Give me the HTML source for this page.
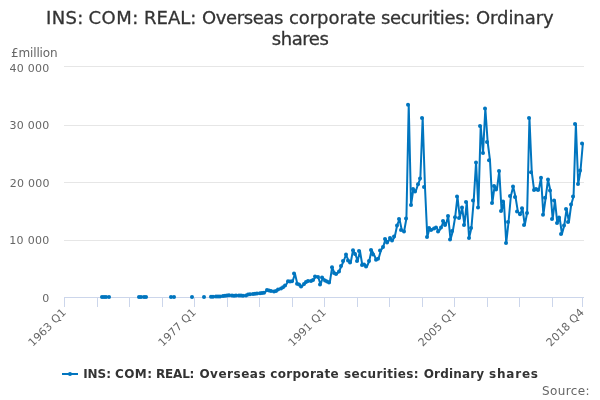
<!DOCTYPE html>
<html><head><meta charset="utf-8"><title>INS: COM: REAL: Overseas corporate securities: Ordinary shares</title>
<style>html,body{margin:0;padding:0;background:#fff;overflow:hidden}svg{display:block;font-family:"DejaVu Sans","Liberation Sans",sans-serif}</style></head><body>
<svg width="600" height="400" viewBox="0 0 600 400">
<rect width="600" height="400" fill="#ffffff"/>
<path d="M 64 240.5 L 584 240.5" stroke="#e6e6e6" stroke-width="1" fill="none"/>
<path d="M 64 182.5 L 584 182.5" stroke="#e6e6e6" stroke-width="1" fill="none"/>
<path d="M 64 125.5 L 584 125.5" stroke="#e6e6e6" stroke-width="1" fill="none"/>
<path d="M 64 66.5 L 584 66.5" stroke="#e6e6e6" stroke-width="1" fill="none"/>
<path d="M 64 297.5 L 584 297.5" stroke="#ccd6eb" stroke-width="1" fill="none"/>
<path d="M 64.5 297 L 64.5 307" stroke="#ccd6eb" stroke-width="1" fill="none"/>
<path d="M 97.5 297 L 97.5 307" stroke="#ccd6eb" stroke-width="1" fill="none"/>
<path d="M 129.5 297 L 129.5 307" stroke="#ccd6eb" stroke-width="1" fill="none"/>
<path d="M 162.5 297 L 162.5 307" stroke="#ccd6eb" stroke-width="1" fill="none"/>
<path d="M 194.5 297 L 194.5 307" stroke="#ccd6eb" stroke-width="1" fill="none"/>
<path d="M 227.5 297 L 227.5 307" stroke="#ccd6eb" stroke-width="1" fill="none"/>
<path d="M 259.5 297 L 259.5 307" stroke="#ccd6eb" stroke-width="1" fill="none"/>
<path d="M 292.5 297 L 292.5 307" stroke="#ccd6eb" stroke-width="1" fill="none"/>
<path d="M 324.5 297 L 324.5 307" stroke="#ccd6eb" stroke-width="1" fill="none"/>
<path d="M 357.5 297 L 357.5 307" stroke="#ccd6eb" stroke-width="1" fill="none"/>
<path d="M 389.5 297 L 389.5 307" stroke="#ccd6eb" stroke-width="1" fill="none"/>
<path d="M 422.5 297 L 422.5 307" stroke="#ccd6eb" stroke-width="1" fill="none"/>
<path d="M 454.5 297 L 454.5 307" stroke="#ccd6eb" stroke-width="1" fill="none"/>
<path d="M 487.5 297 L 487.5 307" stroke="#ccd6eb" stroke-width="1" fill="none"/>
<path d="M 519.5 297 L 519.5 307" stroke="#ccd6eb" stroke-width="1" fill="none"/>
<path d="M 552.5 297 L 552.5 307" stroke="#ccd6eb" stroke-width="1" fill="none"/>
<path d="M 582.5 297 L 582.5 307" stroke="#ccd6eb" stroke-width="1" fill="none"/>
<g>
<path d="M 102.30 297.00 L 104.62 297.00 L 106.95 297.00 L 109.27 297.00" stroke="#0075bf" stroke-width="2" stroke-linejoin="round" stroke-linecap="round" fill="none"/>
<path d="M 139.45 297.00 L 141.77 297.00 L 144.09 297.00 L 146.41 297.00" stroke="#0075bf" stroke-width="2" stroke-linejoin="round" stroke-linecap="round" fill="none"/>
<path d="M 171.95 297.00 L 174.27 297.00" stroke="#0075bf" stroke-width="2" stroke-linejoin="round" stroke-linecap="round" fill="none"/>
<path d="M 211.41 296.80 L 213.73 296.70 L 216.05 296.60 L 218.37 296.50 L 220.70 296.40 L 223.02 295.90 L 225.34 295.80 L 227.66 295.60 L 229.98 295.20 L 232.30 295.60 L 234.62 295.80 L 236.95 295.60 L 239.27 295.60 L 241.59 295.60 L 243.91 295.80 L 246.23 295.50 L 248.55 294.50 L 250.87 294.30 L 253.20 294.00 L 255.52 293.80 L 257.84 293.50 L 260.16 293.20 L 262.48 293.00 L 264.80 292.70 L 267.12 290.00 L 269.45 290.60 L 271.77 291.00 L 274.09 291.50 L 276.41 291.00 L 278.73 289.50 L 281.05 288.50 L 283.37 287.30 L 285.70 285.60 L 288.02 281.25 L 290.34 281.50 L 292.66 281.25 L 294.98 273.60 L 297.30 283.75 L 299.62 284.40 L 301.95 286.60 L 304.27 284.00 L 306.59 281.90 L 308.91 281.00 L 311.23 281.00 L 313.55 280.00 L 315.87 276.50 L 318.20 277.00 L 320.52 284.50 L 322.84 277.50 L 325.16 280.50 L 327.48 281.50 L 329.80 282.50 L 332.12 267.30 L 334.45 273.00 L 336.77 274.00 L 339.09 271.50 L 341.41 266.00 L 343.73 261.00 L 346.05 254.50 L 348.37 260.50 L 350.70 262.50 L 353.02 250.20 L 355.34 254.00 L 357.66 261.00 L 359.98 251.00 L 362.30 265.00 L 364.62 264.50 L 366.95 266.50 L 369.27 261.00 L 371.59 250.00 L 373.91 254.40 L 376.23 259.75 L 378.55 258.75 L 380.87 250.40 L 383.20 246.90 L 385.52 239.00 L 387.84 242.50 L 390.16 238.00 L 392.48 240.50 L 394.80 236.50 L 397.12 225.50 L 399.45 219.00 L 401.77 230.00 L 404.09 231.50 L 406.41 218.50 L 408.73 104.70 L 411.05 205.00 L 413.37 189.00 L 415.70 191.50 L 418.02 184.30 L 420.34 178.50 L 422.66 118.00 L 424.98 187.00 L 427.30 237.00 L 429.62 228.00 L 431.95 230.00 L 434.27 228.50 L 436.59 227.50 L 438.91 231.50 L 441.23 227.50 L 443.55 221.00 L 445.87 225.00 L 448.20 216.00 L 450.52 239.60 L 452.84 231.00 L 455.16 217.20 L 457.48 196.60 L 459.80 218.00 L 462.12 207.40 L 464.45 225.00 L 466.77 202.00 L 469.09 238.00 L 471.41 228.00 L 473.73 200.40 L 476.05 162.40 L 478.37 207.40 L 480.70 126.00 L 483.02 153.00 L 485.34 108.60 L 487.66 142.00 L 489.98 160.20 L 492.30 203.00 L 494.62 186.00 L 496.95 189.40 L 499.27 171.00 L 501.59 211.00 L 503.91 201.60 L 506.23 243.00 L 508.55 222.00 L 510.87 196.00 L 513.20 186.60 L 515.52 197.00 L 517.84 211.40 L 520.16 214.30 L 522.48 208.30 L 524.80 225.00 L 527.12 213.00 L 529.45 118.00 L 531.77 172.20 L 534.09 190.00 L 536.41 189.00 L 538.73 190.00 L 541.05 177.80 L 543.37 214.70 L 545.70 197.70 L 548.02 179.50 L 550.34 190.50 L 552.66 219.00 L 554.98 200.50 L 557.30 223.00 L 559.62 217.50 L 561.95 234.00 L 564.27 225.50 L 566.59 209.00 L 568.91 222.00 L 571.23 204.50 L 573.55 196.50 L 575.87 124.00 L 578.20 184.00 L 580.52 170.50 L 582.84 143.50" stroke="#0075bf" stroke-width="2" stroke-linejoin="round" stroke-linecap="round" fill="none"/>
</g><g>
<circle cx="102" cy="297.00" r="2" fill="#0075bf"/>
<circle cx="104" cy="297.00" r="2" fill="#0075bf"/>
<circle cx="106" cy="297.00" r="2" fill="#0075bf"/>
<circle cx="109" cy="297.00" r="2" fill="#0075bf"/>
<circle cx="139" cy="297.00" r="2" fill="#0075bf"/>
<circle cx="141" cy="297.00" r="2" fill="#0075bf"/>
<circle cx="144" cy="297.00" r="2" fill="#0075bf"/>
<circle cx="146" cy="297.00" r="2" fill="#0075bf"/>
<circle cx="171" cy="297.00" r="2" fill="#0075bf"/>
<circle cx="174" cy="297.00" r="2" fill="#0075bf"/>
<circle cx="192" cy="297.00" r="2" fill="#0075bf"/>
<circle cx="204" cy="297.00" r="2" fill="#0075bf"/>
<circle cx="211" cy="296.80" r="2" fill="#0075bf"/>
<circle cx="213" cy="296.70" r="2" fill="#0075bf"/>
<circle cx="216" cy="296.60" r="2" fill="#0075bf"/>
<circle cx="218" cy="296.50" r="2" fill="#0075bf"/>
<circle cx="220" cy="296.40" r="2" fill="#0075bf"/>
<circle cx="223" cy="295.90" r="2" fill="#0075bf"/>
<circle cx="225" cy="295.80" r="2" fill="#0075bf"/>
<circle cx="227" cy="295.60" r="2" fill="#0075bf"/>
<circle cx="229" cy="295.20" r="2" fill="#0075bf"/>
<circle cx="232" cy="295.60" r="2" fill="#0075bf"/>
<circle cx="234" cy="295.80" r="2" fill="#0075bf"/>
<circle cx="236" cy="295.60" r="2" fill="#0075bf"/>
<circle cx="239" cy="295.60" r="2" fill="#0075bf"/>
<circle cx="241" cy="295.60" r="2" fill="#0075bf"/>
<circle cx="243" cy="295.80" r="2" fill="#0075bf"/>
<circle cx="246" cy="295.50" r="2" fill="#0075bf"/>
<circle cx="248" cy="294.50" r="2" fill="#0075bf"/>
<circle cx="250" cy="294.30" r="2" fill="#0075bf"/>
<circle cx="253" cy="294.00" r="2" fill="#0075bf"/>
<circle cx="255" cy="293.80" r="2" fill="#0075bf"/>
<circle cx="257" cy="293.50" r="2" fill="#0075bf"/>
<circle cx="260" cy="293.20" r="2" fill="#0075bf"/>
<circle cx="262" cy="293.00" r="2" fill="#0075bf"/>
<circle cx="264" cy="292.70" r="2" fill="#0075bf"/>
<circle cx="267" cy="290.00" r="2" fill="#0075bf"/>
<circle cx="269" cy="290.60" r="2" fill="#0075bf"/>
<circle cx="271" cy="291.00" r="2" fill="#0075bf"/>
<circle cx="274" cy="291.50" r="2" fill="#0075bf"/>
<circle cx="276" cy="291.00" r="2" fill="#0075bf"/>
<circle cx="278" cy="289.50" r="2" fill="#0075bf"/>
<circle cx="281" cy="288.50" r="2" fill="#0075bf"/>
<circle cx="283" cy="287.30" r="2" fill="#0075bf"/>
<circle cx="285" cy="285.60" r="2" fill="#0075bf"/>
<circle cx="288" cy="281.25" r="2" fill="#0075bf"/>
<circle cx="290" cy="281.50" r="2" fill="#0075bf"/>
<circle cx="292" cy="281.25" r="2" fill="#0075bf"/>
<circle cx="294" cy="273.60" r="2" fill="#0075bf"/>
<circle cx="297" cy="283.75" r="2" fill="#0075bf"/>
<circle cx="299" cy="284.40" r="2" fill="#0075bf"/>
<circle cx="301" cy="286.60" r="2" fill="#0075bf"/>
<circle cx="304" cy="284.00" r="2" fill="#0075bf"/>
<circle cx="306" cy="281.90" r="2" fill="#0075bf"/>
<circle cx="308" cy="281.00" r="2" fill="#0075bf"/>
<circle cx="311" cy="281.00" r="2" fill="#0075bf"/>
<circle cx="313" cy="280.00" r="2" fill="#0075bf"/>
<circle cx="315" cy="276.50" r="2" fill="#0075bf"/>
<circle cx="318" cy="277.00" r="2" fill="#0075bf"/>
<circle cx="320" cy="284.50" r="2" fill="#0075bf"/>
<circle cx="322" cy="277.50" r="2" fill="#0075bf"/>
<circle cx="325" cy="280.50" r="2" fill="#0075bf"/>
<circle cx="327" cy="281.50" r="2" fill="#0075bf"/>
<circle cx="329" cy="282.50" r="2" fill="#0075bf"/>
<circle cx="332" cy="267.30" r="2" fill="#0075bf"/>
<circle cx="334" cy="273.00" r="2" fill="#0075bf"/>
<circle cx="336" cy="274.00" r="2" fill="#0075bf"/>
<circle cx="339" cy="271.50" r="2" fill="#0075bf"/>
<circle cx="341" cy="266.00" r="2" fill="#0075bf"/>
<circle cx="343" cy="261.00" r="2" fill="#0075bf"/>
<circle cx="346" cy="254.50" r="2" fill="#0075bf"/>
<circle cx="348" cy="260.50" r="2" fill="#0075bf"/>
<circle cx="350" cy="262.50" r="2" fill="#0075bf"/>
<circle cx="353" cy="250.20" r="2" fill="#0075bf"/>
<circle cx="355" cy="254.00" r="2" fill="#0075bf"/>
<circle cx="357" cy="261.00" r="2" fill="#0075bf"/>
<circle cx="359" cy="251.00" r="2" fill="#0075bf"/>
<circle cx="362" cy="265.00" r="2" fill="#0075bf"/>
<circle cx="364" cy="264.50" r="2" fill="#0075bf"/>
<circle cx="366" cy="266.50" r="2" fill="#0075bf"/>
<circle cx="369" cy="261.00" r="2" fill="#0075bf"/>
<circle cx="371" cy="250.00" r="2" fill="#0075bf"/>
<circle cx="373" cy="254.40" r="2" fill="#0075bf"/>
<circle cx="376" cy="259.75" r="2" fill="#0075bf"/>
<circle cx="378" cy="258.75" r="2" fill="#0075bf"/>
<circle cx="380" cy="250.40" r="2" fill="#0075bf"/>
<circle cx="383" cy="246.90" r="2" fill="#0075bf"/>
<circle cx="385" cy="239.00" r="2" fill="#0075bf"/>
<circle cx="387" cy="242.50" r="2" fill="#0075bf"/>
<circle cx="390" cy="238.00" r="2" fill="#0075bf"/>
<circle cx="392" cy="240.50" r="2" fill="#0075bf"/>
<circle cx="394" cy="236.50" r="2" fill="#0075bf"/>
<circle cx="397" cy="225.50" r="2" fill="#0075bf"/>
<circle cx="399" cy="219.00" r="2" fill="#0075bf"/>
<circle cx="401" cy="230.00" r="2" fill="#0075bf"/>
<circle cx="404" cy="231.50" r="2" fill="#0075bf"/>
<circle cx="406" cy="218.50" r="2" fill="#0075bf"/>
<circle cx="408" cy="104.70" r="2" fill="#0075bf"/>
<circle cx="411" cy="205.00" r="2" fill="#0075bf"/>
<circle cx="413" cy="189.00" r="2" fill="#0075bf"/>
<circle cx="415" cy="191.50" r="2" fill="#0075bf"/>
<circle cx="418" cy="184.30" r="2" fill="#0075bf"/>
<circle cx="420" cy="178.50" r="2" fill="#0075bf"/>
<circle cx="422" cy="118.00" r="2" fill="#0075bf"/>
<circle cx="424" cy="187.00" r="2" fill="#0075bf"/>
<circle cx="427" cy="237.00" r="2" fill="#0075bf"/>
<circle cx="429" cy="228.00" r="2" fill="#0075bf"/>
<circle cx="431" cy="230.00" r="2" fill="#0075bf"/>
<circle cx="434" cy="228.50" r="2" fill="#0075bf"/>
<circle cx="436" cy="227.50" r="2" fill="#0075bf"/>
<circle cx="438" cy="231.50" r="2" fill="#0075bf"/>
<circle cx="441" cy="227.50" r="2" fill="#0075bf"/>
<circle cx="443" cy="221.00" r="2" fill="#0075bf"/>
<circle cx="445" cy="225.00" r="2" fill="#0075bf"/>
<circle cx="448" cy="216.00" r="2" fill="#0075bf"/>
<circle cx="450" cy="239.60" r="2" fill="#0075bf"/>
<circle cx="452" cy="231.00" r="2" fill="#0075bf"/>
<circle cx="455" cy="217.20" r="2" fill="#0075bf"/>
<circle cx="457" cy="196.60" r="2" fill="#0075bf"/>
<circle cx="459" cy="218.00" r="2" fill="#0075bf"/>
<circle cx="462" cy="207.40" r="2" fill="#0075bf"/>
<circle cx="464" cy="225.00" r="2" fill="#0075bf"/>
<circle cx="466" cy="202.00" r="2" fill="#0075bf"/>
<circle cx="469" cy="238.00" r="2" fill="#0075bf"/>
<circle cx="471" cy="228.00" r="2" fill="#0075bf"/>
<circle cx="473" cy="200.40" r="2" fill="#0075bf"/>
<circle cx="476" cy="162.40" r="2" fill="#0075bf"/>
<circle cx="478" cy="207.40" r="2" fill="#0075bf"/>
<circle cx="480" cy="126.00" r="2" fill="#0075bf"/>
<circle cx="483" cy="153.00" r="2" fill="#0075bf"/>
<circle cx="485" cy="108.60" r="2" fill="#0075bf"/>
<circle cx="487" cy="142.00" r="2" fill="#0075bf"/>
<circle cx="489" cy="160.20" r="2" fill="#0075bf"/>
<circle cx="492" cy="203.00" r="2" fill="#0075bf"/>
<circle cx="494" cy="186.00" r="2" fill="#0075bf"/>
<circle cx="496" cy="189.40" r="2" fill="#0075bf"/>
<circle cx="499" cy="171.00" r="2" fill="#0075bf"/>
<circle cx="501" cy="211.00" r="2" fill="#0075bf"/>
<circle cx="503" cy="201.60" r="2" fill="#0075bf"/>
<circle cx="506" cy="243.00" r="2" fill="#0075bf"/>
<circle cx="508" cy="222.00" r="2" fill="#0075bf"/>
<circle cx="510" cy="196.00" r="2" fill="#0075bf"/>
<circle cx="513" cy="186.60" r="2" fill="#0075bf"/>
<circle cx="515" cy="197.00" r="2" fill="#0075bf"/>
<circle cx="517" cy="211.40" r="2" fill="#0075bf"/>
<circle cx="520" cy="214.30" r="2" fill="#0075bf"/>
<circle cx="522" cy="208.30" r="2" fill="#0075bf"/>
<circle cx="524" cy="225.00" r="2" fill="#0075bf"/>
<circle cx="527" cy="213.00" r="2" fill="#0075bf"/>
<circle cx="529" cy="118.00" r="2" fill="#0075bf"/>
<circle cx="531" cy="172.20" r="2" fill="#0075bf"/>
<circle cx="534" cy="190.00" r="2" fill="#0075bf"/>
<circle cx="536" cy="189.00" r="2" fill="#0075bf"/>
<circle cx="538" cy="190.00" r="2" fill="#0075bf"/>
<circle cx="541" cy="177.80" r="2" fill="#0075bf"/>
<circle cx="543" cy="214.70" r="2" fill="#0075bf"/>
<circle cx="545" cy="197.70" r="2" fill="#0075bf"/>
<circle cx="548" cy="179.50" r="2" fill="#0075bf"/>
<circle cx="550" cy="190.50" r="2" fill="#0075bf"/>
<circle cx="552" cy="219.00" r="2" fill="#0075bf"/>
<circle cx="554" cy="200.50" r="2" fill="#0075bf"/>
<circle cx="557" cy="223.00" r="2" fill="#0075bf"/>
<circle cx="559" cy="217.50" r="2" fill="#0075bf"/>
<circle cx="561" cy="234.00" r="2" fill="#0075bf"/>
<circle cx="564" cy="225.50" r="2" fill="#0075bf"/>
<circle cx="566" cy="209.00" r="2" fill="#0075bf"/>
<circle cx="568" cy="222.00" r="2" fill="#0075bf"/>
<circle cx="571" cy="204.50" r="2" fill="#0075bf"/>
<circle cx="573" cy="196.50" r="2" fill="#0075bf"/>
<circle cx="575" cy="124.00" r="2" fill="#0075bf"/>
<circle cx="578" cy="184.00" r="2" fill="#0075bf"/>
<circle cx="580" cy="170.50" r="2" fill="#0075bf"/>
<circle cx="582" cy="143.50" r="2" fill="#0075bf"/>
</g>
<g>
<text x="46.04" y="24.00" font-size="18" fill="#333333" textLength="37.22" lengthAdjust="spacing" stroke="#333333" stroke-width="0.3">INS:</text>
<text x="88.40" y="24.00" font-size="18" fill="#333333" textLength="49.94" lengthAdjust="spacing" stroke="#333333" stroke-width="0.3">COM:</text>
<text x="144.05" y="24.00" font-size="18" fill="#333333" textLength="52.36" lengthAdjust="spacing" stroke="#333333" stroke-width="0.3">REAL:</text>
<text x="201.94" y="24.00" font-size="18" fill="#333333" textLength="81.53" lengthAdjust="spacing" stroke="#333333" stroke-width="0.3">Overseas</text>
<text x="289.00" y="24.00" font-size="18" fill="#333333" textLength="86.80" lengthAdjust="spacing" stroke="#333333" stroke-width="0.3">corporate</text>
<text x="380.90" y="24.00" font-size="18" fill="#333333" textLength="89.38" lengthAdjust="spacing" stroke="#333333" stroke-width="0.3">securities:</text>
<text x="475.91" y="24.00" font-size="18" fill="#333333" textLength="77.75" lengthAdjust="spacing" stroke="#333333" stroke-width="0.3">Ordinary</text>
<text x="271.71" y="45.00" font-size="18" fill="#333333" textLength="57.15" lengthAdjust="spacing" stroke="#333333" stroke-width="0.3">shares</text>
</g><g>
<text x="10.95" y="57.00" font-size="12" fill="#666666" textLength="46.65" lengthAdjust="spacing">£million</text>
<text x="42.20" y="302.00" font-size="11" fill="#666666">0</text>
<text x="9.22" y="244.00" font-size="11" fill="#666666" textLength="40.12" lengthAdjust="spacing">10 000</text>
<text x="9.80" y="187.00" font-size="11" fill="#666666" textLength="39.64" lengthAdjust="spacing">20 000</text>
<text x="9.44" y="129.00" font-size="11" fill="#666666" textLength="39.82" lengthAdjust="spacing">30 000</text>
<text x="9.43" y="72.00" font-size="11" fill="#666666" textLength="39.90" lengthAdjust="spacing">40 000</text>
</g><g>
<text x="66.80" y="313.10" font-size="11" fill="#666666" text-anchor="end" textLength="47.96" lengthAdjust="spacing" transform="rotate(-45 66.80 313.10)">1963 Q1</text>
<text x="196.80" y="313.10" font-size="11" fill="#666666" text-anchor="end" textLength="47.96" lengthAdjust="spacing" transform="rotate(-45 196.80 313.10)">1977 Q1</text>
<text x="326.80" y="313.10" font-size="11" fill="#666666" text-anchor="end" textLength="47.96" lengthAdjust="spacing" transform="rotate(-45 326.80 313.10)">1991 Q1</text>
<text x="456.80" y="313.10" font-size="11" fill="#666666" text-anchor="end" textLength="47.96" lengthAdjust="spacing" transform="rotate(-45 456.80 313.10)">2005 Q1</text>
<text x="584.80" y="313.10" font-size="11" fill="#666666" text-anchor="end" textLength="47.96" lengthAdjust="spacing" transform="rotate(-45 584.80 313.10)">2018 Q4</text>
</g><g>
<path d="M 62 374 L 78 374" stroke="#0075bf" stroke-width="2" fill="none"/><circle cx="70" cy="374" r="2" fill="#0075bf"/>
<text x="83.14" y="378.00" font-size="12" fill="#333333" font-weight="bold" textLength="27.88" lengthAdjust="spacing">INS:</text>
<text x="114.97" y="378.00" font-size="12" fill="#333333" font-weight="bold" textLength="37.07" lengthAdjust="spacing">COM:</text>
<text x="156.00" y="378.00" font-size="12" fill="#333333" font-weight="bold" textLength="38.41" lengthAdjust="spacing">REAL:</text>
<text x="199.38" y="378.00" font-size="12" fill="#333333" font-weight="bold" textLength="66.16" lengthAdjust="spacing">Overseas</text>
<text x="270.28" y="378.00" font-size="12" fill="#333333" font-weight="bold" textLength="68.41" lengthAdjust="spacing">corporate</text>
<text x="344.07" y="378.00" font-size="12" fill="#333333" font-weight="bold" textLength="74.58" lengthAdjust="spacing">securities:</text>
<text x="423.68" y="378.00" font-size="12" fill="#333333" font-weight="bold" textLength="60.38" lengthAdjust="spacing">Ordinary</text>
<text x="489.07" y="378.00" font-size="12" fill="#333333" font-weight="bold" textLength="48.89" lengthAdjust="spacing">shares</text>
<text x="542.04" y="395.00" font-size="12" fill="#666666" textLength="47.44" lengthAdjust="spacing">Source:</text>
</g>
</svg></body></html>
